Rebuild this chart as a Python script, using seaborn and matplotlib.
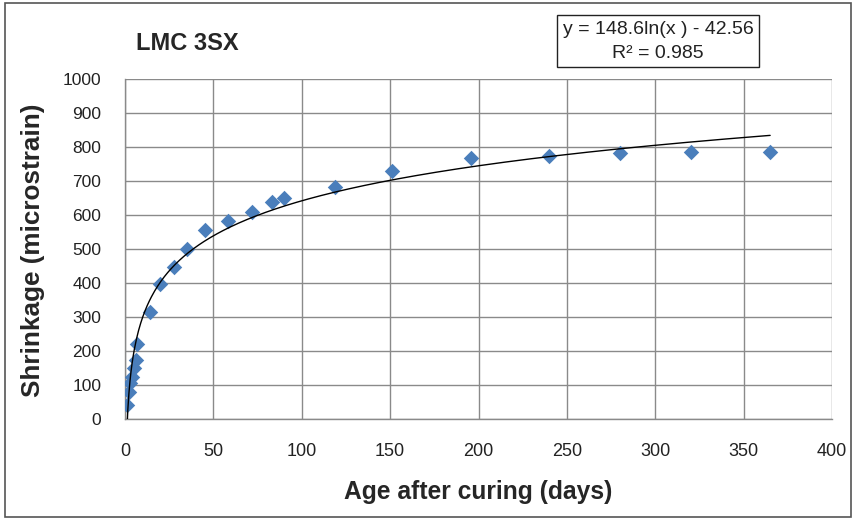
import numpy as np
import pandas as pd
import matplotlib
matplotlib.use("Agg")
import matplotlib.pyplot as plt
from matplotlib.patches import Rectangle
import seaborn as sns

# Drying shrinkage readings for mix LMC 3SX
age_days = [1, 2, 3, 4, 5, 6, 7, 14, 20, 28, 35, 45, 58, 72, 83, 90,
            119, 151, 196, 240, 280, 320, 365]
shrinkage = [40, 80, 105, 125, 150, 175, 220, 316, 398, 446, 500, 557, 583,
             608, 638, 651, 683, 729, 768, 775, 782, 785, 785]

# Logarithmic trendline: y = a*ln(x) + b
trend_a = 148.6
trend_b = -42.56
trend_r2 = 0.985

x_ticks = list(range(0, 401, 50))
y_ticks = list(range(0, 1001, 100))

sns.set_theme(style="white")
plt.rcParams["font.family"] = ["Liberation Sans", "DejaVu Sans"]

df = pd.DataFrame({"age": age_days, "shrinkage": shrinkage})
xs = np.linspace(min(age_days), max(age_days), 600)
trend = pd.DataFrame({"age": xs, "fit": trend_a * np.log(xs) + trend_b})

fig = plt.figure(figsize=(8.56, 5.19), dpi=100)
ax = fig.add_axes([125 / 856, 1 - 419 / 519, 707 / 856, 340 / 519])

grid_c = "#8a8a8a"
ax.set_xlim(0, 400)
ax.set_ylim(0, 1000)
ax.set_xticks(x_ticks)
ax.set_yticks(y_ticks)
ax.grid(True, color=grid_c, linewidth=1.0)
ax.set_axisbelow(True)

sns.scatterplot(data=df, x="age", y="shrinkage", marker="D", s=62,
                color="#4a7ebb", linewidth=0, ax=ax, zorder=3)
sns.lineplot(data=trend, x="age", y="fit", color="black", linewidth=1.0,
             ax=ax, zorder=4)

for side in ["top", "right"]:
    ax.spines[side].set_visible(False)
for side in ["left", "bottom"]:
    ax.spines[side].set_color(grid_c)
    ax.spines[side].set_linewidth(1.0)

ax.tick_params(axis="both", which="major", direction="out", length=4,
               width=1, color=grid_c, labelcolor="#222222")
ax.tick_params(axis="y", pad=13, labelsize=12.5)
ax.tick_params(axis="x", pad=13, labelsize=13)

ax.set_xlabel("Age after curing (days)", fontsize=17.7, fontweight="bold")
ax.set_ylabel("Shrinkage (microstrain)", fontsize=18.8, fontweight="bold")
ax.xaxis.set_label_coords(0.5, (419 - 492) / 340)
ax.xaxis.label.set_va("center")
ax.yaxis.set_label_coords((33 - 125) / 707, (419 - 250) / 340)
ax.yaxis.label.set_va("center")

fig.text(136 / 856, 1 - 44 / 519, "LMC 3SX", fontsize=17, fontweight="bold",
         ha="left", va="center")

# Trendline equation box
fig.patches.append(Rectangle((557 / 856, 1 - 66.5 / 519), 202 / 856, 51.5 / 519,
                             transform=fig.transFigure, fill=False,
                             edgecolor="#222222", linewidth=1.0))
fig.text(658 / 856, 1 - 30 / 519, f"y = {trend_a}ln(x ) - {abs(trend_b)}",
         fontsize=14, ha="center", va="center", color="#222222")
fig.text(658 / 856, 1 - 53 / 519, f"R² = {trend_r2}",
         fontsize=14, ha="center", va="center", color="#222222")

# Outer chart border
fig.patches.append(Rectangle((5 / 856, 2 / 519), 846 / 856, 514 / 519,
                             transform=fig.transFigure, fill=False,
                             edgecolor="#555555", linewidth=1.2))

fig.savefig("out.png", dpi=100)
